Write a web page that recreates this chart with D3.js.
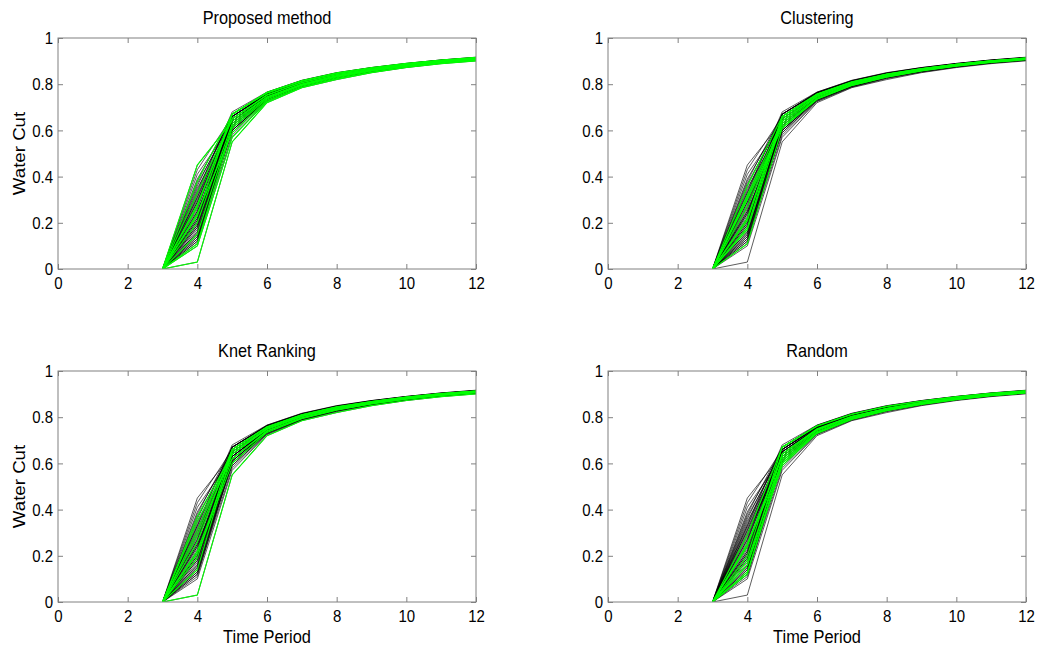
<!DOCTYPE html>
<html>
<head>
<meta charset="utf-8">
<script src="https://cdn.jsdelivr.net/npm/d3@7"></script>
<style>
  html, body { margin: 0; padding: 0; background: #fff; }
  svg { display: block; font-family: "Liberation Sans", Arial, sans-serif; }
</style>
</head>
<body>
<svg id="chart" width="1039" height="650"></svg>
<script>
// Time periods at which water cut is reported
const timePeriods = [3, 4, 5, 6, 7, 8, 9, 10, 11, 12];

// Water-cut curves of the full ensemble (one row per realization)
const ensemble = [
  [0, 0.03, 0.55, 0.720, 0.785, 0.820, 0.850, 0.872, 0.889, 0.901],
  [0, 0.45, 0.64, 0.745, 0.800, 0.835, 0.862, 0.882, 0.897, 0.909],
  [0, 0.43, 0.66, 0.755, 0.808, 0.842, 0.866, 0.885, 0.900, 0.912],
  [0, 0.41, 0.63, 0.740, 0.797, 0.832, 0.859, 0.880, 0.896, 0.908],
  [0, 0.39, 0.65, 0.750, 0.805, 0.840, 0.864, 0.884, 0.899, 0.911],
  [0, 0.38, 0.67, 0.762, 0.813, 0.846, 0.869, 0.887, 0.902, 0.914],
  [0, 0.36, 0.66, 0.758, 0.810, 0.844, 0.868, 0.886, 0.901, 0.913],
  [0, 0.35, 0.62, 0.738, 0.796, 0.832, 0.858, 0.879, 0.895, 0.907],
  [0, 0.34, 0.67, 0.764, 0.815, 0.848, 0.871, 0.889, 0.904, 0.915],
  [0, 0.33, 0.65, 0.752, 0.806, 0.841, 0.865, 0.884, 0.899, 0.911],
  [0, 0.32, 0.64, 0.748, 0.803, 0.838, 0.863, 0.883, 0.898, 0.910],
  [0, 0.31, 0.66, 0.759, 0.811, 0.845, 0.868, 0.887, 0.902, 0.913],
  [0, 0.30, 0.61, 0.735, 0.794, 0.830, 0.857, 0.878, 0.894, 0.906],
  [0, 0.29, 0.67, 0.763, 0.814, 0.847, 0.870, 0.888, 0.903, 0.915],
  [0, 0.28, 0.65, 0.754, 0.807, 0.842, 0.866, 0.885, 0.900, 0.912],
  [0, 0.27, 0.63, 0.744, 0.800, 0.836, 0.861, 0.881, 0.897, 0.909],
  [0, 0.26, 0.66, 0.757, 0.809, 0.843, 0.867, 0.886, 0.901, 0.913],
  [0, 0.25, 0.60, 0.732, 0.792, 0.829, 0.856, 0.877, 0.894, 0.906],
  [0, 0.24, 0.64, 0.750, 0.804, 0.839, 0.864, 0.883, 0.899, 0.911],
  [0, 0.23, 0.67, 0.762, 0.813, 0.846, 0.869, 0.888, 0.903, 0.914],
  [0, 0.22, 0.62, 0.741, 0.798, 0.834, 0.860, 0.880, 0.896, 0.908],
  [0, 0.21, 0.65, 0.753, 0.806, 0.841, 0.865, 0.884, 0.900, 0.912],
  [0, 0.20, 0.63, 0.745, 0.801, 0.837, 0.862, 0.882, 0.898, 0.910],
  [0, 0.19, 0.66, 0.758, 0.810, 0.844, 0.868, 0.887, 0.902, 0.913],
  [0, 0.18, 0.61, 0.737, 0.795, 0.831, 0.858, 0.879, 0.895, 0.907],
  [0, 0.17, 0.64, 0.749, 0.803, 0.838, 0.863, 0.883, 0.899, 0.911],
  [0, 0.16, 0.59, 0.730, 0.790, 0.828, 0.855, 0.876, 0.893, 0.905],
  [0, 0.15, 0.62, 0.740, 0.797, 0.833, 0.859, 0.880, 0.896, 0.908],
  [0, 0.14, 0.65, 0.752, 0.805, 0.840, 0.865, 0.884, 0.900, 0.912],
  [0, 0.13, 0.60, 0.733, 0.793, 0.830, 0.857, 0.878, 0.894, 0.906],
  [0, 0.12, 0.58, 0.727, 0.789, 0.826, 0.854, 0.875, 0.892, 0.904],
  [0, 0.11, 0.61, 0.736, 0.795, 0.831, 0.858, 0.879, 0.895, 0.907],
  [0, 0.10, 0.57, 0.725, 0.787, 0.824, 0.852, 0.874, 0.891, 0.903],
  [0, 0.21, 0.60, 0.734, 0.793, 0.830, 0.857, 0.878, 0.894, 0.906],
  [0, 0.27, 0.67, 0.765, 0.816, 0.849, 0.872, 0.890, 0.905, 0.916],
  [0, 0.18, 0.66, 0.756, 0.808, 0.843, 0.867, 0.886, 0.901, 0.913],
  [0, 0.24, 0.59, 0.731, 0.791, 0.828, 0.856, 0.877, 0.893, 0.905],
  [0, 0.33, 0.68, 0.766, 0.817, 0.850, 0.872, 0.890, 0.905, 0.917],
  [0, 0.15, 0.63, 0.743, 0.799, 0.835, 0.861, 0.881, 0.897, 0.909],
  [0, 0.37, 0.64, 0.747, 0.802, 0.837, 0.862, 0.882, 0.898, 0.910],
  [0, 0.12, 0.62, 0.742, 0.798, 0.834, 0.860, 0.880, 0.896, 0.908],
  [0, 0.14, 0.60, 0.735, 0.794, 0.831, 0.857, 0.878, 0.894, 0.906],
  [0, 0.16, 0.64, 0.748, 0.803, 0.838, 0.863, 0.883, 0.898, 0.910],
  [0, 0.19, 0.61, 0.738, 0.796, 0.832, 0.858, 0.879, 0.895, 0.907],
  [0, 0.22, 0.66, 0.757, 0.809, 0.843, 0.867, 0.886, 0.901, 0.913],
  [0, 0.25, 0.63, 0.746, 0.801, 0.836, 0.861, 0.881, 0.897, 0.909],
  [0, 0.29, 0.64, 0.750, 0.804, 0.839, 0.864, 0.883, 0.899, 0.911],
  [0, 0.31, 0.62, 0.739, 0.797, 0.833, 0.859, 0.880, 0.896, 0.908],
  [0, 0.20, 0.67, 0.761, 0.812, 0.846, 0.869, 0.888, 0.903, 0.914],
  [0, 0.13, 0.63, 0.744, 0.800, 0.835, 0.861, 0.881, 0.897, 0.909]
];

// Realizations picked by each selection technique (row indices into the ensemble)
const proposedPicks = [1, 0, 5, 9, 14, 19, 22, 27, 31, 36, 34, 32];
const clusteringPicks = [6, 10, 15, 21, 25, 31, 35, 44, 47, 12];
const knetPicks = [0, 7, 11, 16, 20, 23, 28, 33, 39, 46];
const randomPicks = [13, 17, 24, 29, 40, 42, 45, 48, 26, 18];

// Panel titles and axis labels
const panelTitles = ["Proposed method", "Clustering", "Knet Ranking", "Random"];
const xTicks = [0, 2, 4, 6, 8, 10, 12];
const yTicks = [0, 0.2, 0.4, 0.6, 0.8, 1];
const yTickLabels = ["0", "0.2", "0.4", "0.6", "0.8", "1"];
const xLabel = "Time Period";
const yLabel = "Water Cut";

const panels = [
  { title: panelTitles[0], picks: proposedPicks, left: 58, top: 38, showY: true, showX: false },
  { title: panelTitles[1], picks: clusteringPicks, left: 608, top: 38, showY: false, showX: false },
  { title: panelTitles[2], picks: knetPicks, left: 58, top: 371, showY: true, showX: true },
  { title: panelTitles[3], picks: randomPicks, left: 608, top: 371, showY: false, showX: true }
];

const W = 418, H = 231, TICK = 5;
const STRETCH = 1.14;            // glyphs are a little taller than they are wide
const svg = d3.select("#chart");
const boxColor = "#808080";

panels.forEach((p, pi) => {
  const x = d3.scaleLinear().domain([0, 12]).range([0, W]);
  const y = d3.scaleLinear().domain([0, 1]).range([H, 0]);
  const g = svg.append("g").attr("transform", `translate(${p.left},${p.top})`);

  g.append("clipPath").attr("id", "clip" + pi)
    .append("rect").attr("x", 0).attr("y", 0).attr("width", W).attr("height", H);

  const line = d3.line().x((d, i) => x(timePeriods[i])).y(d => y(d));

  // axes: ticks inside the box on all four sides
  const axB = g.append("g").attr("transform", `translate(0,${H})`)
    .call(d3.axisBottom(x).tickValues(xTicks).tickSizeInner(-TICK).tickSizeOuter(0).tickFormat(d3.format("d")));
  const axT = g.append("g")
    .call(d3.axisTop(x).tickValues(xTicks).tickSizeInner(-TICK).tickSizeOuter(0).tickFormat(""));
  const axL = g.append("g")
    .call(d3.axisLeft(y).tickValues(yTicks).tickSizeInner(-TICK).tickSizeOuter(0).tickPadding(5)
      .tickFormat((d, i) => yTickLabels[i]));
  const axR = g.append("g").attr("transform", `translate(${W},0)`)
    .call(d3.axisRight(y).tickValues(yTicks).tickSizeInner(-TICK).tickSizeOuter(0).tickFormat(""));
  [axB, axT, axL, axR].forEach(a => {
    a.select(".domain").remove();
    a.selectAll(".tick line").attr("stroke", boxColor).attr("stroke-width", 1);
    a.selectAll(".tick text").attr("fill", "#000").style("font-size", "15px")
      .style("font-family", "'Liberation Sans', Arial, sans-serif");
  });
  axB.selectAll(".tick text").attr("y", 17.6).attr("dy", null)
    .attr("transform", `scale(1,${STRETCH})`);
  axL.selectAll(".tick text").attr("dy", "0.33em")
    .attr("transform", `scale(1,${STRETCH})`);

  const plot = g.append("g").attr("clip-path", `url(#clip${pi})`);

  // whole ensemble in black
  plot.selectAll("path.ens").data(ensemble).enter().append("path")
    .attr("class", "ens")
    .attr("d", line)
    .attr("fill", "none")
    .attr("stroke", "#000")
    .attr("stroke-opacity", 0.8)
    .attr("stroke-width", 0.8);

  // selected realizations in green
  plot.selectAll("path.sel").data(p.picks.map(k => ensemble[k])).enter().append("path")
    .attr("class", "sel")
    .attr("d", line)
    .attr("fill", "none")
    .attr("stroke", "#00ff00")
    .attr("stroke-width", 1.1);

  // box
  g.append("rect").attr("x", 0).attr("y", 0).attr("width", W).attr("height", H)
    .attr("fill", "none").attr("stroke", boxColor).attr("stroke-width", 1);

  g.append("text")
    .attr("transform", `translate(${W / 2},-14.5) scale(1,1.1)`)
    .attr("text-anchor", "middle").style("font-size", "16.3px").text(p.title);

  if (p.showY) {
    g.append("text")
      .attr("transform", `translate(-33,${H / 2}) rotate(-90) scale(${STRETCH},1)`)
      .attr("text-anchor", "middle").style("font-size", "16.4px").text(yLabel);
  }
  if (p.showX) {
    g.append("text")
      .attr("transform", `translate(${W / 2},${H + 41}) scale(1,${STRETCH})`)
      .attr("text-anchor", "middle").style("font-size", "16.4px").text(xLabel);
  }
});
</script>
</body>
</html>
